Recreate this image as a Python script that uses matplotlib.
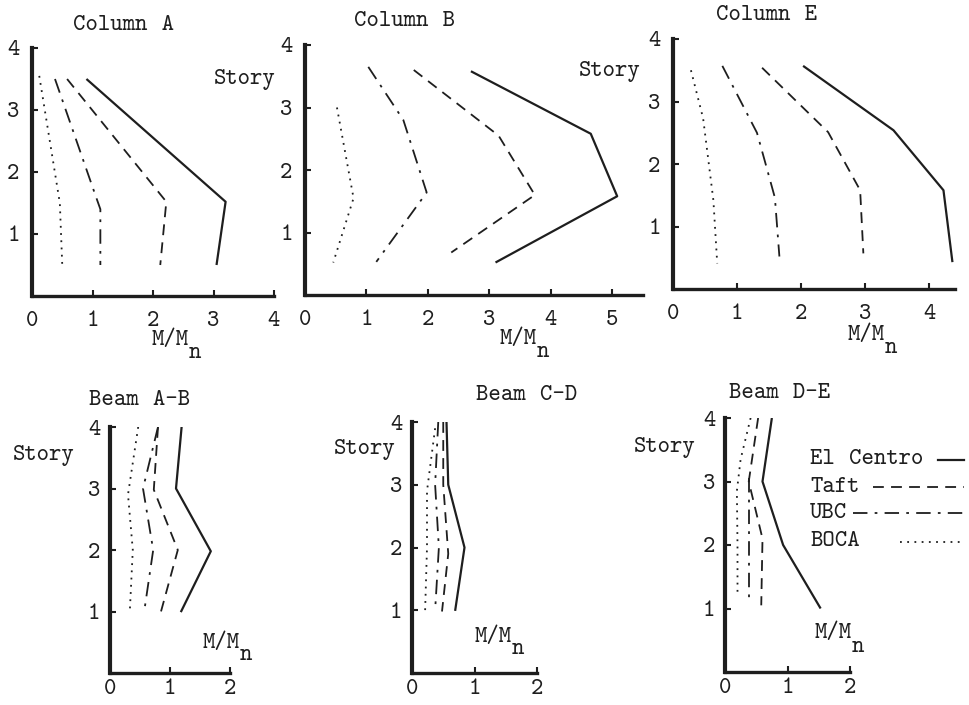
import matplotlib
matplotlib.use("Agg")
import matplotlib.pyplot as plt
from matplotlib.lines import Line2D

# typewriter face shipped with matplotlib; spaces come from the fallback font
plt.rcParams['font.family'] = ['cmtt10', 'DejaVu Sans Mono']

W, H = 969, 705
INK = '#1e1e1e'
SP = '\u2007'

series_names = ['El Centro', 'Taft', 'UBC', 'BOCA']
styles = {
    'El Centro': dict(ls='-', lw=1.6),
    'Taft': dict(ls=(0, (6, 4)), lw=1.3),
    'UBC': dict(ls=(0, (8, 4, 1.5, 4)), lw=1.3),
    'BOCA': dict(ls=(0, (1, 3)), lw=1.3),
}

# Column A  (x = M/Mn, y = story)
colA_x = {
    'El Centro': [0.9, 3.2, 3.05],
    'Taft': [0.58, 2.22, 2.12],
    'UBC': [0.38, 1.05, 1.13, 1.13],
    'BOCA': [0.12, 0.46, 0.5],
}
colA_y = {
    'El Centro': [3.5, 1.52, 0.5],
    'Taft': [3.5, 1.52, 0.5],
    'UBC': [3.5, 1.62, 1.4, 0.5],
    'BOCA': [3.55, 1.5, 0.5],
}

# Column B
colB_x = {
    'El Centro': [2.7, 4.65, 5.08, 3.1],
    'Taft': [1.77, 3.15, 3.74, 2.38],
    'UBC': [1.03, 1.6, 1.98, 1.16],
    'BOCA': [0.52, 0.79, 0.46],
}
colB_y = {
    'El Centro': [3.58, 2.58, 1.58, 0.52],
    'Taft': [3.6, 2.55, 1.6, 0.68],
    'UBC': [3.65, 2.8, 1.64, 0.53],
    'BOCA': [3.0, 1.55, 0.52],
}

# Column E
colE_x = {
    'El Centro': [2.03, 3.44, 4.22, 4.36],
    'Taft': [1.39, 2.42, 2.92, 2.97],
    'UBC': [0.77, 1.31, 1.44, 1.59, 1.66],
    'BOCA': [0.28, 0.47, 0.63, 0.69],
}
colE_y = {
    'El Centro': [3.57, 2.54, 1.58, 0.43],
    'Taft': [3.54, 2.51, 1.58, 0.57],
    'UBC': [3.57, 2.5, 2.02, 1.46, 0.52],
    'BOCA': [3.5, 2.73, 1.42, 0.41],
}

# Beam A-B
bAB_x = {
    'El Centro': [1.2, 1.1, 1.68, 1.18],
    'Taft': [0.8, 0.73, 1.13, 0.85],
    'UBC': [0.8, 0.55, 0.72, 0.57],
    'BOCA': [0.47, 0.3, 0.38, 0.33],
}
bAB_y = {
    'El Centro': [4.07, 3.0, 1.98, 0.99],
    'Taft': [4.0, 2.98, 2.0, 1.0],
    'UBC': [4.0, 3.0, 2.0, 1.0],
    'BOCA': [4.0, 2.9, 2.0, 1.0],
}

# Beam C-D
bCD_x = {
    'El Centro': [0.55, 0.58, 0.84, 0.69],
    'Taft': [0.5, 0.5, 0.58, 0.48],
    'UBC': [0.42, 0.37, 0.43, 0.37],
    'BOCA': [0.37, 0.24, 0.24, 0.21],
}
bCD_y = {
    'El Centro': [4.07, 3.0, 2.0, 0.99],
    'Taft': [4.0, 3.0, 1.9, 0.98],
    'UBC': [4.0, 3.0, 2.0, 1.0],
    'BOCA': [3.9, 2.9, 2.0, 1.0],
}

# Beam D-E
bDE_x = {
    'El Centro': [0.75, 0.6, 0.93, 1.53],
    'Taft': [0.53, 0.38, 0.6, 0.58],
    'UBC': [0.38, 0.38, 0.38],
    'BOCA': [0.41, 0.25, 0.19, 0.2, 0.2],
}
bDE_y = {
    'El Centro': [4.0, 3.0, 2.0, 1.0],
    'Taft': [4.0, 3.0, 2.1, 1.05],
    'UBC': [3.05, 2.0, 1.1],
    'BOCA': [4.0, 3.35, 2.85, 2.0, 1.2],
}

col_xticks = [0, 1, 2, 3, 4]
colB_xticks = [0, 1, 2, 3, 4, 5]
beam_xticks = [0, 1, 2]
story_ticks = [1, 2, 3, 4]

FS = 17  # typewriter text size


def px_axes(x0, x1, y_bottom, y_top):
    return fig.add_axes([x0 / W, 1 - y_bottom / H, (x1 - x0) / W, (y_bottom - y_top) / H])


def ftext(x, y, s, size=FS, **kw):
    fig.text(x / W, 1 - y / H, s.replace(' ', SP), color=INK, va='center',
             fontsize=size, **kw)


def style_axes(ax, xmax, xticks, xpad, ypad):
    ax.set_xlim(0, xmax)
    ax.set_ylim(0, 4)
    for side in ['top', 'right']:
        ax.spines[side].set_visible(False)
    ax.spines['left'].set_linewidth(3)
    ax.spines['bottom'].set_linewidth(2.4)
    ax.spines['left'].set_color(INK)
    ax.spines['bottom'].set_color(INK)
    ax.set_xticks(xticks)
    ax.set_yticks(story_ticks)
    ax.tick_params(direction='in', length=4, width=1.5, colors=INK, labelsize=FS)
    ax.tick_params(axis='x', pad=xpad)
    ax.tick_params(axis='y', pad=ypad)
    ax.patch.set_alpha(0)


def draw(ax, xs, ys):
    for name in series_names:
        ax.plot(xs[name], ys[name], color=INK, solid_capstyle='butt', **styles[name])


def mmn(x, y):
    ftext(x, y, 'M/M', ha='left')
    ftext(x + 37, y + 13, 'n', ha='left')


fig = plt.figure(figsize=(W / 100, H / 100), dpi=100)

ax = px_axes(32, 274, 296, 48)
style_axes(ax, 4, col_xticks, 11, 9)
draw(ax, colA_x, colA_y)

ax = px_axes(305, 643, 295, 45)
style_axes(ax, 5.5, colB_xticks, 11, 9)
draw(ax, colB_x, colB_y)

ax = px_axes(673, 955, 289, 39)
style_axes(ax, 4.4, col_xticks, 11, 9)
draw(ax, colE_x, colE_y)

ax = px_axes(110, 230, 673, 427)
style_axes(ax, 2, beam_xticks, 4, 7)
draw(ax, bAB_x, bAB_y)

ax = px_axes(412, 537, 673, 422)
style_axes(ax, 2, beam_xticks, 4, 7)
draw(ax, bCD_x, bCD_y)

ax = px_axes(725, 850, 672, 418)
style_axes(ax, 2, beam_xticks, 4, 7)
draw(ax, bDE_x, bDE_y)

# titles
ftext(124, 25, 'Column A', ha='center')
ftext(404, 22, 'Column B', ha='center')
ftext(766, 16, 'Column E', ha='center')
ftext(140, 400, 'Beam A-B', ha='center')
ftext(527, 395, 'Beam C-D', ha='center')
ftext(780, 393, 'Beam D-E', ha='center')

# story labels
ftext(245, 79, 'Story', ha='center')
ftext(610, 71, 'Story', ha='center')
ftext(44, 455, 'Story', ha='center')
ftext(365, 450, 'Story', ha='center')
ftext(665, 447, 'Story', ha='center')

# M/Mn labels
mmn(152, 341)
mmn(500, 340)
mmn(848, 335)
mmn(203, 643)
mmn(475, 637)
mmn(815, 634)

# legend drawn as text with line samples
legend_rows = [(460, 938), (487, 873), (513, 853), (542, 900)]
for name, (yy, lx0) in zip(series_names, legend_rows):
    ftext(810, yy, name, ha='left')
    fig.add_artist(Line2D([lx0 / W, 964 / W], [1 - yy / H, 1 - yy / H],
                          color=INK, transform=fig.transFigure, **styles[name]))

fig.savefig('out.png', dpi=100)
